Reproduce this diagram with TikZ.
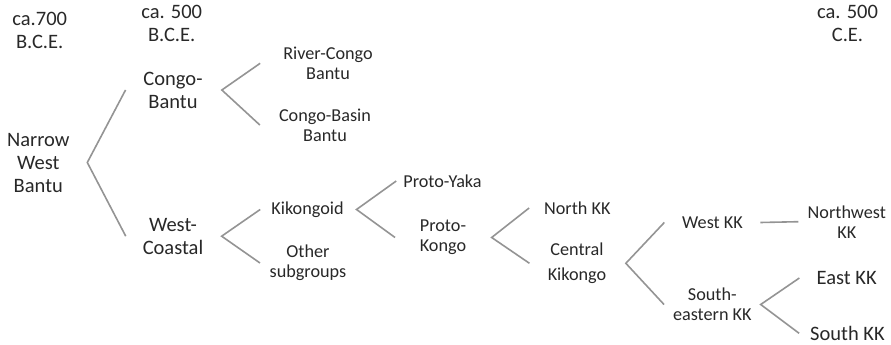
\documentclass[tikz,border=0pt]{standalone}
\usepackage{fontspec}
\setmainfont{Carlito}
\usepackage{tikz}
\definecolor{branchgray}{RGB}{148,148,148}
\definecolor{labelgray}{RGB}{40,40,40}
\begin{document}
\begin{tikzpicture}[x=1pt,y=-1pt,
  lang/.style={inner sep=0pt,align=center,text=labelgray,font=\fontsize{18.2}{20}\selectfont},
  big/.style={lang,font=\fontsize{20.5}{23}\selectfont},
  branch/.style={draw=branchgray,line width=1.6pt}]
\useasboundingbox (0,0) rectangle (891,345);
% dates
\node[big] (d700) at (39.7,30) {ca.700\\B.C.E.};
\node[big] (d500) at (171.7,23) {ca. 500\\B.C.E.};
\node[big] (d500ce) at (847.5,23) {ca. 500\\C.E.};
% left part
\node[big] (nwb) at (38.3,162.5) {Narrow\\West\\Bantu};
\node[big] (cb) at (173,90) {Congo-\\Bantu};
\node[big] (wc) at (173,236.2) {West-\\Coastal};
\node[lang] (rcb) at (328,63.3) {River-Congo\\Bantu};
\node[lang] (cbb) at (325,125) {Congo-Basin\\Bantu};
\node[lang] (kik) at (307.5,209.5) {Kikongoid};
\node[lang] (oth) at (308,263) {Other\\subgroups};
% Kikongo part
\node[lang] (py) at (442.5,181) {Proto-Yaka};
\node[lang] (pk) at (443,237.5) {Proto-\\Kongo};
\node[lang] (nkk) at (577.3,208) {North KK};
\node[lang] (ckk) at (577,263.3) {Central\\[5pt]Kikongo};
\node[lang] (wkk) at (712.5,222.5) {West KK};
\node[lang] (sekk) at (712.3,304.5) {South-\\eastern KK};
\node[lang] (nwkk) at (846.8,221.7) {Northwest\\KK};
\node[big] (ekk) at (846.7,278) {East KK};
\node[big] (skk) at (847.5,333.3) {South KK};
% branches
\draw[branch] ([xshift=-17.7pt]cb.west) -- ([xshift=17.6pt]nwb.east) -- ([xshift=-16.8pt]wc.west);
\draw[branch] ([xshift=-22.9pt]rcb.west) -- ([xshift=19.1pt]cb.east) -- ([xshift=-19pt]cbb.west);
\draw[branch] ([xshift=-11pt]kik.west) -- ([xshift=18.2pt]wc.east) -- ([xshift=-9.5pt]oth.west);
\draw[branch] ([xshift=-6.9pt]py.west) -- ([xshift=12.7pt]kik.east) -- ([xshift=-24.6pt]pk.west);
\draw[branch] ([xshift=-14.8pt]nkk.west) -- ([xshift=25.3pt]pk.east) -- ([xshift=-18.1pt]ckk.west);
\draw[branch] ([xshift=-17.7pt]wkk.west) -- ([xshift=19.4pt]ckk.east) -- ([xshift=-8.8pt]sekk.west);
\draw[branch] ([xshift=17.4pt]wkk.east) -- ([xshift=-9.2pt]nwkk.west);
\draw[branch] ([xshift=-17.1pt]ekk.west) -- ([xshift=8.9pt]sekk.east) -- ([xshift=-10.9pt]skk.west);
\end{tikzpicture}
\end{document}
